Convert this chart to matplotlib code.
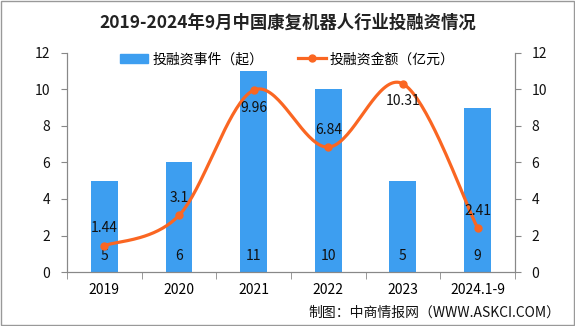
import numpy as np
import matplotlib.pyplot as plt
from matplotlib.lines import Line2D
from matplotlib.patches import Patch

plt.rcParams['font.family'] = ['Noto Sans CJK SC', 'DejaVu Sans']

years = ['2019', '2020', '2021', '2022', '2023', '2024.1-9']
events = [5, 6, 11, 10, 5, 9]
amount = [1.44, 3.1, 9.96, 6.84, 10.31, 2.41]
amount_labels = ['1.44', '3.1', '9.96', '6.84', '10.31', '2.41']
label_below = [False, False, True, False, True, False]

BAR_C = '#3d9ef0'
LINE_C = '#fa6622'
GRID_C = '#888888'


def smooth(xs, ys, n=40):
    # Bezier curve through the points, like the office "smoothed line"
    xs = np.asarray(xs, float)
    ys = np.asarray(ys, float)
    px, py = [], []
    for i in range(len(xs) - 1):
        x0, y0 = xs[max(i - 1, 0)], ys[max(i - 1, 0)]
        x1, y1 = xs[i], ys[i]
        x2, y2 = xs[i + 1], ys[i + 1]
        x3, y3 = xs[min(i + 2, len(xs) - 1)], ys[min(i + 2, len(xs) - 1)]
        c1x, c1y = x1 + (x2 - x0) / 6, y1 + (y2 - y0) / 6
        c2x, c2y = x2 - (x3 - x1) / 6, y2 - (y3 - y1) / 6
        t = np.linspace(0, 1, n)
        px.extend((1 - t) ** 3 * x1 + 3 * (1 - t) ** 2 * t * c1x + 3 * (1 - t) * t ** 2 * c2x + t ** 3 * x2)
        py.extend((1 - t) ** 3 * y1 + 3 * (1 - t) ** 2 * t * c1y + 3 * (1 - t) * t ** 2 * c2y + t ** 3 * y2)
    return np.array(px), np.array(py)


fig = plt.figure(figsize=(5.75, 3.26), dpi=100)
ax = fig.add_axes([0.1165, 0.1656, 0.779, 0.672])
ax2 = ax.twinx()

x = np.arange(len(years))
ax.bar(x, events, width=0.36, color=BAR_C, zorder=2)
for xi, v in zip(x, events):
    ax.text(xi, 0.85, str(v), ha='center', va='center', fontsize=10, color='#111111', zorder=5)

sx, sy = smooth(x, amount)
ax2.plot(sx, sy, color=LINE_C, lw=2.3, zorder=3)
ax2.plot(x, amount, 'o', color=LINE_C, ms=5, zorder=4)
for xi, v, lab, below in zip(x, amount, amount_labels, label_below):
    ax2.annotate(lab, (xi, v), xytext=(0, -12.5 if below else 12.5), textcoords='offset points',
                 ha='center', va='center', fontsize=10, color='#111111', zorder=5)

for a in (ax, ax2):
    a.set_ylim(0, 12)
    a.set_yticks(range(0, 13, 2))
    a.set_xlim(-0.5, len(years) - 0.5)
    for s in a.spines.values():
        s.set_color(GRID_C)
    a.spines['top'].set_visible(False)
    a.tick_params(axis='y', labelsize=10, colors='#111111', length=4, color=GRID_C, pad=8)

ax.set_xticks(x)
ax.set_xticklabels(years, fontsize=10)
ax.set_xticks(np.arange(-0.5, len(years), 1), minor=True)
ax.tick_params(axis='x', which='major', length=0, pad=8)
ax.tick_params(axis='x', which='minor', length=5, color=GRID_C)

fig.text(0.5, 0.93, '2019-2024年9月中国康复机器人行业投融资情况', ha='center', va='center',
         fontsize=12.5, fontweight='bold', color='#222222')

handles = [Patch(color=BAR_C, label='投融资事件（起）'),
           Line2D([0], [0], color=LINE_C, lw=2.3, marker='o', ms=5, label='投融资金额（亿元）')]
fig.legend(handles=handles, loc='center', bbox_to_anchor=(0.5, 0.818), ncol=2, frameon=False,
           fontsize=10, handlelength=2.0, columnspacing=2.5, handletextpad=0.3)

fig.text(0.975, 0.04, '制图：中商情报网（WWW.ASKCI.COM）', ha='right', va='center', fontsize=10, color='#111111')

fig.patches.append(plt.Rectangle((0.002, 0.003), 0.996, 0.994, transform=fig.transFigure,
                                 fill=False, edgecolor='#999999', lw=1))

fig.savefig('out.png', dpi=100)
